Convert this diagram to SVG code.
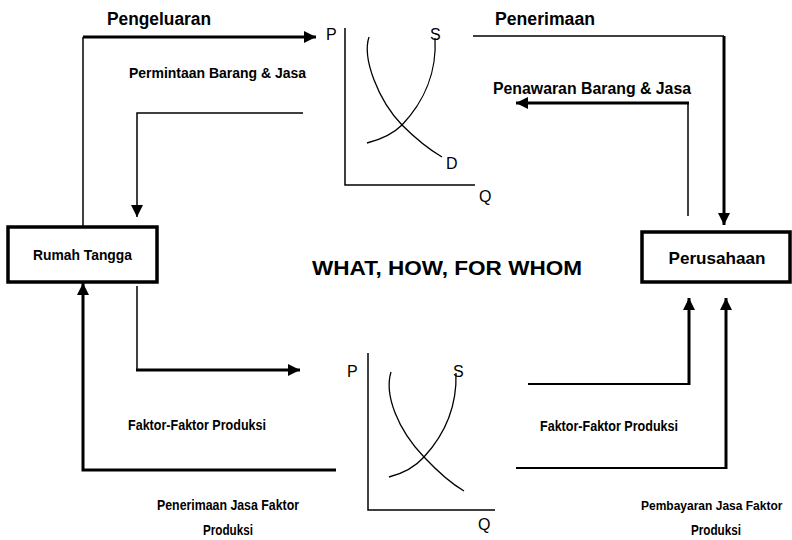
<svg xmlns="http://www.w3.org/2000/svg" width="792" height="540" viewBox="0 0 792 540">
<style>
.lbl{font-family:"Liberation Sans",Arial,sans-serif;font-weight:bold;fill:#000}
.ax{font-family:"Liberation Sans",Arial,sans-serif;font-size:16px;fill:#000}
.thin{stroke:#000;stroke-width:1.5;fill:none}
.thick{stroke:#000;stroke-width:3;fill:none}
.curve{stroke:#000;stroke-width:1.3;fill:none}
.box{stroke:#000;stroke-width:3.5;fill:#fff}
</style>
<defs>
<marker id="ah" markerUnits="userSpaceOnUse" markerWidth="14" markerHeight="12" refX="12" refY="6" orient="auto">
<path d="M0,0 L12,6 L0,12 Z" fill="#000"/>
</marker>
</defs>
<rect width="792" height="540" fill="#fff"/>

<g id="market-goods">
<path class="thin" d="M345,28 V185 H475"/>
<path class="curve" d="M369,37 C362,58 378,100 402,125 C418,141 430,150 442,157"/>
<path class="curve" d="M367,143 C383,139 394,133 402,125 C424,102 437,72 435,38"/>
<text class="ax" x="326" y="40">P</text>
<text class="ax" x="430" y="40">S</text>
<text class="ax" x="446" y="169">D</text>
<text class="ax" x="479" y="202">Q</text>
</g>

<g id="market-factors">
<path class="thin" d="M368,353 V510 H495"/>
<path class="curve" d="M391,372 C384,395 398,430 424,457 C440,474 452,484 464,491"/>
<path class="curve" d="M389,477 C405,473 415,467 424,457 C447,432 457,405 456,373"/>
<text class="ax" x="347" y="377">P</text>
<text class="ax" x="453" y="377">S</text>
<text class="ax" x="478" y="530">Q</text>
</g>

<g id="rumah-tangga">
<rect class="box" x="8" y="227" width="149" height="55"/>
<text class="lbl" x="82.5" y="260" font-size="15" text-anchor="middle" textLength="99" lengthAdjust="spacingAndGlyphs">Rumah Tangga</text>
</g>

<g id="perusahaan">
<rect class="box" x="642" y="232" width="148" height="50"/>
<text class="lbl" x="717" y="264" font-size="17" text-anchor="middle" textLength="97" lengthAdjust="spacingAndGlyphs">Perusahaan</text>
</g>

<g id="center">
<text class="lbl" x="447" y="275" font-size="21" text-anchor="middle" textLength="270" lengthAdjust="spacingAndGlyphs">WHAT, HOW, FOR WHOM</text>
</g>

<g id="connectors">
<path class="thin" d="M83,226 V37"/>
<path class="thick" d="M83,37 H316" marker-end="url(#ah)"/>
<path class="thin" d="M303,113 H137 V217" marker-end="url(#ah)"/>
<path class="thin" d="M473,36 H724"/>
<path class="thick" d="M724,36 V225" marker-end="url(#ah)"/>
<path class="thin" d="M688,216 V103"/>
<path class="thick" d="M689,103 H516" marker-end="url(#ah)"/>
<path class="thick" d="M336,470 H83 V283" marker-end="url(#ah)"/>
<path class="thin" d="M137,286 V370"/>
<path class="thick" d="M136,370 H300" marker-end="url(#ah)"/>
<path class="thin" d="M528,384 H689" style="stroke-width:2"/>
<path class="thick" d="M689,385 V298" marker-end="url(#ah)"/>
<path class="thin" d="M516,468 H726" style="stroke-width:2"/>
<path class="thick" d="M726,469 V298" marker-end="url(#ah)"/>
</g>

<g id="labels">
<text class="lbl" x="107" y="25" font-size="18" textLength="104" lengthAdjust="spacingAndGlyphs">Pengeluaran</text>
<text class="lbl" x="495" y="25" font-size="18" textLength="100" lengthAdjust="spacingAndGlyphs">Penerimaan</text>
<text class="lbl" x="129" y="78" font-size="14" textLength="177" lengthAdjust="spacingAndGlyphs">Permintaan Barang &amp; Jasa</text>
<text class="lbl" x="493" y="94" font-size="16" textLength="198" lengthAdjust="spacingAndGlyphs">Penawaran Barang &amp; Jasa</text>
<text class="lbl" x="128" y="430" font-size="14" textLength="138" lengthAdjust="spacingAndGlyphs">Faktor-Faktor Produksi</text>
<text class="lbl" x="540" y="431" font-size="14" textLength="138" lengthAdjust="spacingAndGlyphs">Faktor-Faktor Produksi</text>
<text class="lbl" x="157" y="510" font-size="14" textLength="142" lengthAdjust="spacingAndGlyphs">Penerimaan Jasa Faktor</text>
<text class="lbl" x="228" y="535" font-size="14" text-anchor="middle" textLength="50" lengthAdjust="spacingAndGlyphs">Produksi</text>
<text class="lbl" x="641" y="510" font-size="12">Pembayaran Jasa Faktor</text>
<text class="lbl" x="716" y="535" font-size="14" text-anchor="middle" textLength="50" lengthAdjust="spacingAndGlyphs">Produksi</text>
</g>
</svg>
